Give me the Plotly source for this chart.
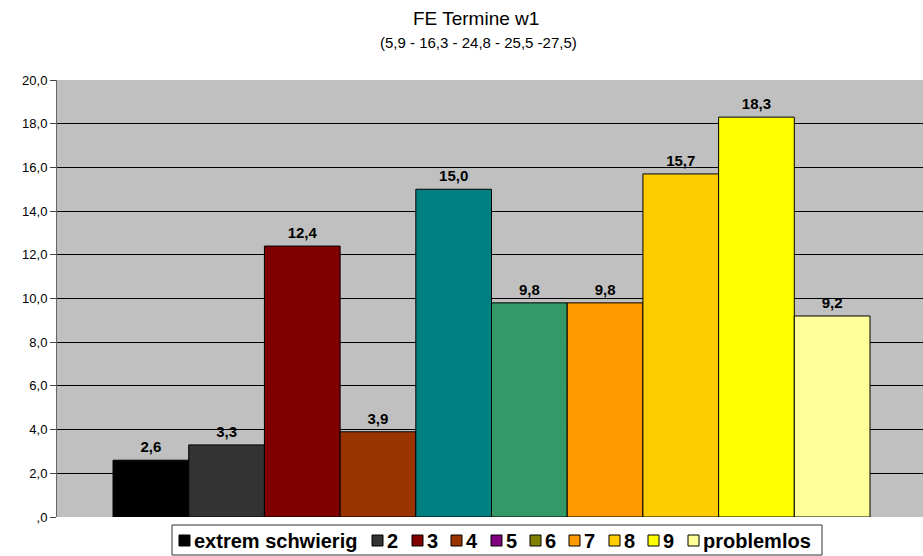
import plotly.graph_objects as go

categories = ["extrem schwierig", "2", "3", "4", "5", "6", "7", "8", "9", "problemlos"]
values = [2.6, 3.3, 12.4, 3.9, 15.0, 9.8, 9.8, 15.7, 18.3, 9.2]
bar_colors = ["#000000", "#333333", "#800000", "#993300", "#008080",
              "#339966", "#FF9900", "#FFCC00", "#FFFF00", "#FFFF99"]
legend_colors = ["#000000", "#333333", "#800000", "#993300", "#800080",
                 "#808000", "#FF9900", "#FFCC00", "#FFFF00", "#FFFF99"]
y_ticks = [0, 2, 4, 6, 8, 10, 12, 14, 16, 18, 20]
y_ticktext = [",0", "2,0", "4,0", "6,0", "8,0", "10,0", "12,0", "14,0", "16,0", "18,0", "20,0"]
title = "FE Termine w1"
subtitle = "(5,9 - 16,3 - 24,8 - 25,5 -27,5)"

FONT = "Liberation Sans, Arial, sans-serif"
W, H = 923, 556
ML, MR, MT, MB = 57, 0, 80, 39
PW, PH = W - ML - MR, H - MT - MB


def px(x):
    return (x - ML) / PW


def py(y):
    return (H - MB - y) / PH


xs = list(range(len(categories)))
labels = [f"{v:.1f}".replace(".", ",") for v in values]

fig = go.Figure()
fig.add_trace(go.Bar(
    x=xs, y=values, width=1, showlegend=False,
    marker=dict(color=bar_colors, line=dict(color="#000000", width=1)),
    hoverinfo="y",
))
fig.add_trace(go.Scatter(
    x=xs, y=values, mode="markers+text", text=labels, textposition="top center",
    marker=dict(size=5, opacity=0), showlegend=False, cliponaxis=False,
    textfont=dict(family=FONT, size=15, color="#000000", weight="bold"),
    hoverinfo="skip",
))

# manual legend (Excel-style compact legend)
shapes = [dict(type="rect", xref="paper", yref="paper",
               x0=px(172), x1=px(822), y0=py(525), y1=py(555),
               line=dict(color="#333333", width=1), fillcolor="#FFFFFF", layer="above")]
annotations = []
sq_x = [179, 372, 412, 451, 491, 530, 569, 609, 648, 688]
for name, c, sx in zip(categories, legend_colors, sq_x):
    shapes.append(dict(type="rect", xref="paper", yref="paper",
                       x0=px(sx), x1=px(sx + 11), y0=py(535), y1=py(546),
                       line=dict(color="#000000", width=1), fillcolor=c, layer="above"))
    annotations.append(dict(text=name, x=px(sx + 13), y=py(541), xref="paper", yref="paper",
                            xanchor="left", yanchor="middle", showarrow=False,
                            font=dict(family=FONT, size=20, color="#000000", weight="bold")))

annotations += [
    dict(text=title, x=px(476), y=py(19), xref="paper", yref="paper", showarrow=False,
         xanchor="center", yanchor="middle",
         font=dict(family=FONT, size=19, color="#000000")),
    dict(text=subtitle, x=px(478), y=py(43), xref="paper", yref="paper", showarrow=False,
         xanchor="center", yanchor="middle",
         font=dict(family=FONT, size=15, color="#000000")),
]

fig.update_layout(
    width=W, height=H,
    margin=dict(l=ML, r=MR, t=MT, b=MB, autoexpand=False),
    paper_bgcolor="#FFFFFF", plot_bgcolor="#C0C0C0",
    font=dict(family=FONT, color="#000000"),
    showlegend=False,
    xaxis=dict(range=[-1.24, 10.2], showticklabels=False, showgrid=False,
               showline=False, zeroline=False, fixedrange=True),
    yaxis=dict(range=[0, 20], tickvals=y_ticks, ticktext=y_ticktext,
               tickfont=dict(family=FONT, size=13, color="#000000"),
               showgrid=True, gridcolor="#000000", gridwidth=1,
               showline=True, linecolor="#666666", linewidth=1,
               ticks="outside", ticklen=6, tickcolor="#444444",
               zeroline=False),
    shapes=shapes,
    annotations=annotations,
)

fig.write_html("out.html", config={"displayModeBar": False},
               post_script="document.body.style.margin='0';document.body.style.overflow='hidden';")
